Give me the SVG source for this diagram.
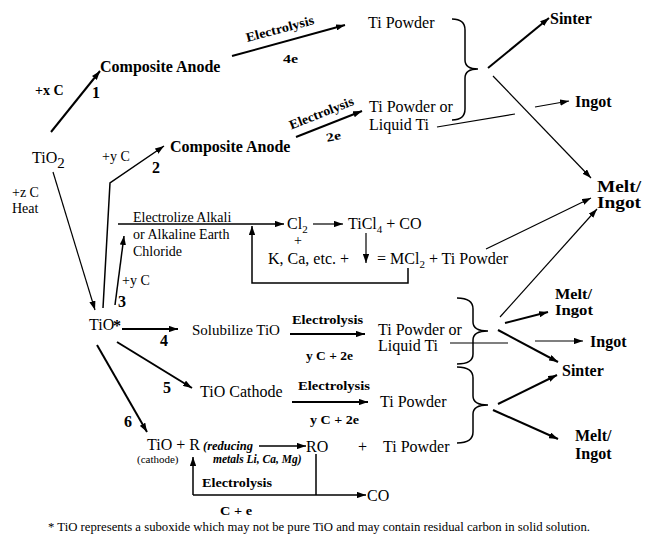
<svg xmlns="http://www.w3.org/2000/svg" width="645" height="536" viewBox="0 0 645 536">
<style>
text{font-family:"Liberation Serif","Times New Roman",serif;fill:#000}
.b{font-weight:bold}
.bi{font-weight:bold;font-style:italic}
.s16{font-size:16px}
.s15{font-size:15px}
.s14{font-size:14px}
.s13{font-size:13px}
.s12{font-size:12px}
.s11{font-size:11px}
.ln{fill:none;stroke:#000}
.th{stroke-width:2}
.md{stroke-width:1.5}
.tn{stroke-width:1.2}
.ar{marker-end:url(#ah)}
</style>
<defs>
<marker id="ah" viewBox="0 0 10 7" markerWidth="9" markerHeight="6.3" refX="10" refY="3.5" orient="auto" markerUnits="userSpaceOnUse">
<path d="M0,0 L10,3.5 L0,7 z" fill="#000"/>
</marker>
</defs>
<rect width="645" height="536" fill="#fff"/>

<g id="connectors">
<line class="ln th ar" x1="51" y1="132" x2="100" y2="71"/>
<line class="ln tn ar" x1="53" y1="172" x2="95" y2="310"/>
<path class="ln md ar" d="M103,308 L110,183 L164,146"/>
<line class="ln md ar" x1="115" y1="305" x2="124" y2="236"/>
<line class="ln md ar" x1="118" y1="224" x2="284" y2="224"/>
<line class="ln tn ar" x1="313" y1="224" x2="343" y2="224"/>
<line class="ln tn ar" x1="366" y1="233" x2="366" y2="263"/>
<path class="ln md ar" d="M408,268 L408,283 L252,283 L252,226"/>
<line class="ln tn ar" x1="486" y1="249" x2="591" y2="198"/>
<line class="ln th ar" x1="232" y1="56" x2="345" y2="25"/>
<line class="ln th ar" x1="296" y1="137" x2="362" y2="111"/>
<line class="ln tn" x1="437" y1="127" x2="515" y2="114"/>
<line class="ln tn ar" x1="535" y1="107" x2="569" y2="101"/>
<line class="ln th ar" x1="488" y1="68" x2="549" y2="18"/>
<line class="ln tn ar" x1="493" y1="76" x2="591" y2="178"/>
<line class="ln th ar" x1="122" y1="329" x2="178" y2="329"/>
<line class="ln th ar" x1="290" y1="334" x2="365" y2="334"/>
<line class="ln tn" x1="450" y1="343" x2="508" y2="343"/>
<line class="ln tn ar" x1="535" y1="341" x2="583" y2="341"/>
<line class="ln tn ar" x1="500" y1="317" x2="597" y2="209"/>
<line class="ln th ar" x1="505" y1="323" x2="548" y2="312"/>
<line class="ln th ar" x1="498" y1="330" x2="558" y2="362"/>
<line class="ln th ar" x1="498" y1="404" x2="557" y2="375"/>
<line class="ln th ar" x1="493" y1="410" x2="558" y2="439"/>
<line class="ln th ar" x1="117" y1="342" x2="192" y2="388"/>
<line class="ln th ar" x1="292" y1="402" x2="368" y2="402"/>
<line class="ln th ar" x1="97" y1="345" x2="147" y2="432"/>
<line class="ln md ar" x1="259" y1="446" x2="306" y2="446"/>
<line class="ln md" x1="316" y1="454" x2="316" y2="495"/>
<line class="ln md ar" x1="193" y1="495" x2="366" y2="495"/>
<line class="ln md ar" x1="193" y1="495" x2="193" y2="457"/>
<path class="ln md" d="M452,19 Q465,19 465,30 L465,60 Q465,69 478,69 Q465,69 465,78 L465,109 Q465,120 452,120"/>
<path class="ln md" d="M457,298 Q473,298 473,309 L473,322 Q473,331 488,331 Q473,331 473,340 L473,354 Q473,364 457,364"/>
<path class="ln md" d="M457,367 Q473,367 473,378 L473,396 Q473,405 488,405 Q473,405 473,414 L473,432 Q473,443 457,443"/>
</g>

<g id="edge-labels">
<text class="b s13" transform="translate(281,33) rotate(-15)" text-anchor="middle" textLength="70" lengthAdjust="spacingAndGlyphs">Electrolysis</text>
<text class="b s12" x="283" y="63" textLength="15" lengthAdjust="spacingAndGlyphs">4e</text>
<text class="b s13" transform="translate(323,117) rotate(-21.5)" text-anchor="middle" textLength="68" lengthAdjust="spacingAndGlyphs">Electrolysis</text>
<text class="b s12" transform="translate(327,142) rotate(-12)" textLength="15" lengthAdjust="spacingAndGlyphs">2e</text>
<text class="b s14" x="35" y="95">+x C</text>
<text class="b s16" x="92" y="98">1</text>
<text class="s14" x="102" y="161">+y C</text>
<text class="b s16" x="152" y="173">2</text>
<text class="s14" x="12" y="197">+z C</text>
<text class="s14" x="12" y="213">Heat</text>
<text class="s14" x="122" y="285">+y C</text>
<text class="b s16" x="118" y="307">3</text>
<text class="b s16" x="160" y="346">4</text>
<text class="b s16" x="163" y="393">5</text>
<text class="b s16" x="124" y="427">6</text>
<text class="s14" x="133" y="222">Electrolize Alkali</text>
<text class="s14" x="133" y="239">or Alkaline Earth</text>
<text class="s14" x="133" y="256">Chloride</text>
<text class="b s12" x="292" y="324" textLength="71" lengthAdjust="spacingAndGlyphs">Electrolysis</text>
<text class="b s12" x="306" y="360" textLength="47" lengthAdjust="spacingAndGlyphs">y C + 2e</text>
<text class="b s12" x="298" y="390" textLength="72" lengthAdjust="spacingAndGlyphs">Electrolysis</text>
<text class="b s12" x="310" y="424" textLength="49" lengthAdjust="spacingAndGlyphs">y C + 2e</text>
<text class="b s13" x="202" y="487" textLength="70" lengthAdjust="spacingAndGlyphs">Electrolysis</text>
<text class="b s13" x="220" y="515" textLength="32" lengthAdjust="spacingAndGlyphs">C + e</text>
</g>

<g id="n-tio2"><text class="s16" x="32" y="163">TiO<tspan dy="5" font-size="15">2</tspan></text></g>
<g id="n-anode1"><text class="b s16" x="100" y="72">Composite Anode</text></g>
<g id="n-anode2"><text class="b s16" x="170" y="152">Composite Anode</text></g>
<g id="n-tipowder1"><text class="s16" x="368" y="28">Ti Powder</text></g>
<g id="n-liquid1"><text class="s16" x="369" y="112">Ti Powder or</text><text class="s16" x="369" y="130">Liquid Ti</text></g>
<g id="n-sinter1"><text class="b s16" x="550" y="24">Sinter</text></g>
<g id="n-ingot1"><text class="b s16" x="575" y="107">Ingot</text></g>
<g id="n-melt1"><text class="b s16" x="597" y="192" textLength="44" lengthAdjust="spacingAndGlyphs">Melt/</text><text class="b s16" x="597" y="208" textLength="44" lengthAdjust="spacingAndGlyphs">Ingot</text></g>
<g id="n-chloride">
<text class="s16" x="287" y="229">Cl<tspan dy="4" font-size="11">2</tspan></text>
<text class="s16" x="348" y="229">TiCl<tspan dy="4" font-size="11">4</tspan><tspan dy="-4"> + CO</tspan></text>
<text class="s14" x="298" y="245" text-anchor="middle">+</text>
<text class="s16" x="268" y="264">K, Ca, etc. +</text>
<text class="s16" x="377" y="264">= MCl<tspan dy="4" font-size="11">2</tspan><tspan dy="-4"> + Ti Powder</tspan></text>
</g>
<g id="n-tio"><text class="s16" x="89" y="330">TiO</text><text class="b" font-size="16" x="113" y="331">*</text></g>
<g id="n-solub"><text class="s15" x="192" y="335">Solubilize TiO</text></g>
<g id="n-liquid2"><text class="s16" x="378" y="335">Ti Powder or</text><text class="s16" x="378" y="351">Liquid Ti</text></g>
<g id="n-melt2"><text class="b s15" x="555" y="299" textLength="37" lengthAdjust="spacingAndGlyphs">Melt/</text><text class="b s15" x="555" y="315" textLength="38" lengthAdjust="spacingAndGlyphs">Ingot</text></g>
<g id="n-ingot2"><text class="b s16" x="590" y="347">Ingot</text></g>
<g id="n-sinter2"><text class="b s16" x="562" y="376">Sinter</text></g>
<g id="n-cathode"><text class="s16" x="200" y="397">TiO Cathode</text></g>
<g id="n-tipowder2"><text class="s16" x="380" y="407">Ti Powder</text></g>
<g id="n-melt3"><text class="b s16" x="575" y="441">Melt/</text><text class="b s16" x="575" y="459">Ingot</text></g>
<g id="n-tior">
<text class="s16" x="147" y="450">TiO + R</text>
<text class="bi" font-size="12.5" x="203" y="450">(reducing</text>
<text class="bi" font-size="11.5" x="213" y="463">metals Li, Ca, Mg)</text>
<text class="s11" x="137" y="463">(cathode)</text>
</g>
<g id="n-ro"><text class="s16" x="306" y="452">RO</text><text class="s16" x="358" y="452">+</text><text class="s16" x="383" y="452">Ti Powder</text></g>
<g id="n-co"><text class="s16" x="367" y="501">CO</text></g>
<g id="footnote"><text font-size="12.5" x="48" y="531" textLength="542" lengthAdjust="spacingAndGlyphs">* TiO represents a suboxide which may not be pure TiO and may contain residual carbon in solid solution.</text></g>
</svg>
